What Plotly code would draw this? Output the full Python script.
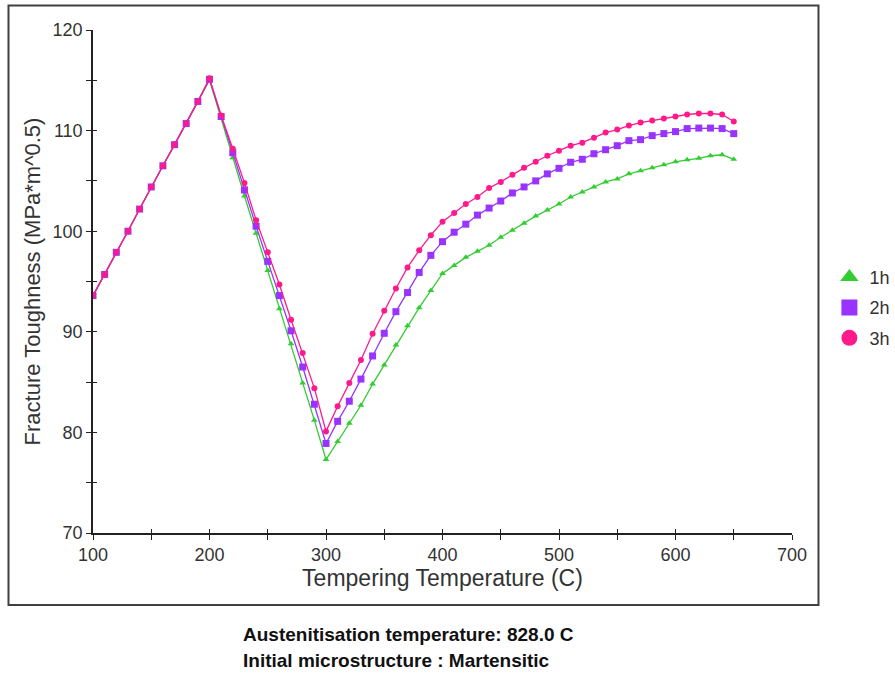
import plotly.graph_objects as go

# ---------------- data ----------------
temps = list(range(100, 660, 10))

rise = [93.6, 95.7, 97.9, 100.0, 102.2, 104.4, 106.5, 108.6, 110.7, 112.9]

tough_1h = rise + [
    115.0,
    111.2, 107.3, 103.5, 99.8, 96.1, 92.3, 88.8, 84.9, 81.2, 77.3,
    79.1, 80.9, 82.7, 84.8, 86.7, 88.7, 90.6, 92.4, 94.1, 95.8,
    96.6, 97.4, 98.0, 98.6, 99.4, 100.1, 100.8, 101.5, 102.1, 102.7,
    103.4, 103.9, 104.4, 104.9, 105.2, 105.7, 106.0, 106.3, 106.6, 106.9,
    107.1, 107.25, 107.5, 107.6, 107.15,
]
tough_2h = rise + [
    115.1,
    111.4, 107.8, 104.1, 100.5, 97.0, 93.6, 90.1, 86.5, 82.8, 78.9,
    81.1, 83.1, 85.3, 87.6, 89.85, 92.0, 93.9, 95.9, 97.6, 98.96,
    99.9, 100.7, 101.6, 102.3, 103.0, 103.8, 104.4, 105.0, 105.7, 106.25,
    106.85, 107.15, 107.7, 108.1, 108.5, 109.0, 109.1, 109.5, 109.7, 109.9,
    110.2, 110.25, 110.25, 110.2, 109.7,
]
tough_3h = rise + [
    115.2,
    111.5, 108.2, 104.8, 101.1, 97.9, 94.7, 91.2, 87.9, 84.4, 80.1,
    82.6, 84.9, 87.2, 89.8, 92.1, 94.3, 96.4, 98.1, 99.6, 100.95,
    101.8, 102.7, 103.4, 104.3, 104.9, 105.6, 106.3, 106.9, 107.5, 108.0,
    108.5, 108.8, 109.3, 109.8, 110.1, 110.5, 110.8, 111.0, 111.2, 111.4,
    111.6, 111.7, 111.7, 111.6, 110.9,
]

series_names = ["1h", "2h", "3h"]

x_tickvals = [100, 150, 200, 250, 300, 350, 400, 450, 500, 550, 600, 650, 700]
x_ticktext = ["100", "", "200", "", "300", "", "400", "", "500", "", "600", "", "700"]
y_tickvals = [70, 75, 80, 85, 90, 95, 100, 105, 110, 115, 120]
y_ticktext = ["70", "", "80", "", "90", "", "100", "", "110", "", "120"]

# ---------------- styles ----------------
colors = ["#33cc33", "#9933ff", "#ff1a8c"]
symbols = ["triangle-up", "square", "circle"]
msizes = [6, 7, 6]
font_family = "Liberation Sans, Arial, sans-serif"
text_color = "#333333"

fig = go.Figure()

for name, ys, c, s, ms in zip(series_names, [tough_1h, tough_2h, tough_3h], colors, symbols, msizes):
    fig.add_trace(go.Scatter(
        x=temps, y=ys, mode="lines+markers", name=name,
        line=dict(color=c, width=1.3),
        marker=dict(color=c, symbol=s, size=ms, line=dict(width=0)),
        showlegend=False,
    ))

# legend-only entries with large symbols
for i, (name, c, s) in enumerate(zip(series_names, colors, symbols)):
    fig.add_trace(go.Scatter(
        x=[None], y=[None], mode="markers", name=name,
        marker=dict(color=c, symbol=s, size=16),
        showlegend=True, legendgroup=name,
    ))

axis_common = dict(
    showgrid=False, zeroline=False, showline=True, linecolor="#222222", linewidth=1.5,
    ticks="outside", ticklen=5, tickwidth=1.3, tickcolor="#222222",
    tickfont=dict(family=font_family, size=18, color=text_color),
    mirror=False,
)

fig.update_layout(
    width=895, height=674,
    margin=dict(l=93, r=103, t=30, b=141, autoexpand=False),
    paper_bgcolor="white", plot_bgcolor="white",
    font=dict(family=font_family, color=text_color),
    xaxis=dict(
        range=[100, 700], tickmode="array", tickvals=x_tickvals, ticktext=x_ticktext,
        title=dict(text="Tempering Temperature (C)", font=dict(size=23, color=text_color), standoff=4),
        **axis_common,
    ),
    yaxis=dict(
        range=[70, 120], tickmode="array", tickvals=y_tickvals, ticktext=y_ticktext,
        title=dict(text="Fracture Toughness (MPa*m^0.5)", font=dict(size=22, color=text_color), standoff=6),
        **axis_common,
    ),
    xaxis2=dict(
        overlaying="x", matches="x", range=[100, 700], tickmode="array", tickvals=x_tickvals,
        showticklabels=False, ticks="inside", ticklen=4, tickwidth=1.3, tickcolor="#222222",
        showgrid=False, zeroline=False, showline=False, side="bottom",
    ),
    yaxis2=dict(
        overlaying="y", matches="y", range=[70, 120], tickmode="array", tickvals=y_tickvals,
        showticklabels=False, ticks="inside", ticklen=4, tickwidth=1.3, tickcolor="#222222",
        showgrid=False, zeroline=False, showline=False, side="left",
    ),
    legend=dict(
        x=1.0535, y=0.545, xanchor="left", yanchor="top",
        font=dict(family=font_family, size=18, color=text_color),
        bgcolor="rgba(0,0,0,0)", tracegroupgap=4, itemwidth=30,
    ),
    shapes=[dict(
        type="rect", xref="paper", yref="paper",
        x0=-0.1209, x1=1.0379, y0=-0.1431, y1=1.0487,
        line=dict(color="#404040", width=2), fillcolor="rgba(0,0,0,0)", layer="below",
    )],
    annotations=[
        dict(text="<b>Austenitisation temperature: 828.0 C</b>", xref="paper", yref="paper",
             x=0.2117, y=-0.2008, xanchor="left", yanchor="middle", showarrow=False,
             font=dict(family=font_family, size=19, color="#111111")),
        dict(text="<b>Initial microstructure : Martensitic</b>", xref="paper", yref="paper",
             x=0.2117, y=-0.2525, xanchor="left", yanchor="middle", showarrow=False,
             font=dict(family=font_family, size=19, color="#111111")),
    ],
)

# dummy trace to activate overlay axes for inside ticks
fig.add_trace(go.Scatter(x=[None], y=[None], xaxis="x2", yaxis="y2", showlegend=False, hoverinfo="skip"))

fig.write_html("out.html")
